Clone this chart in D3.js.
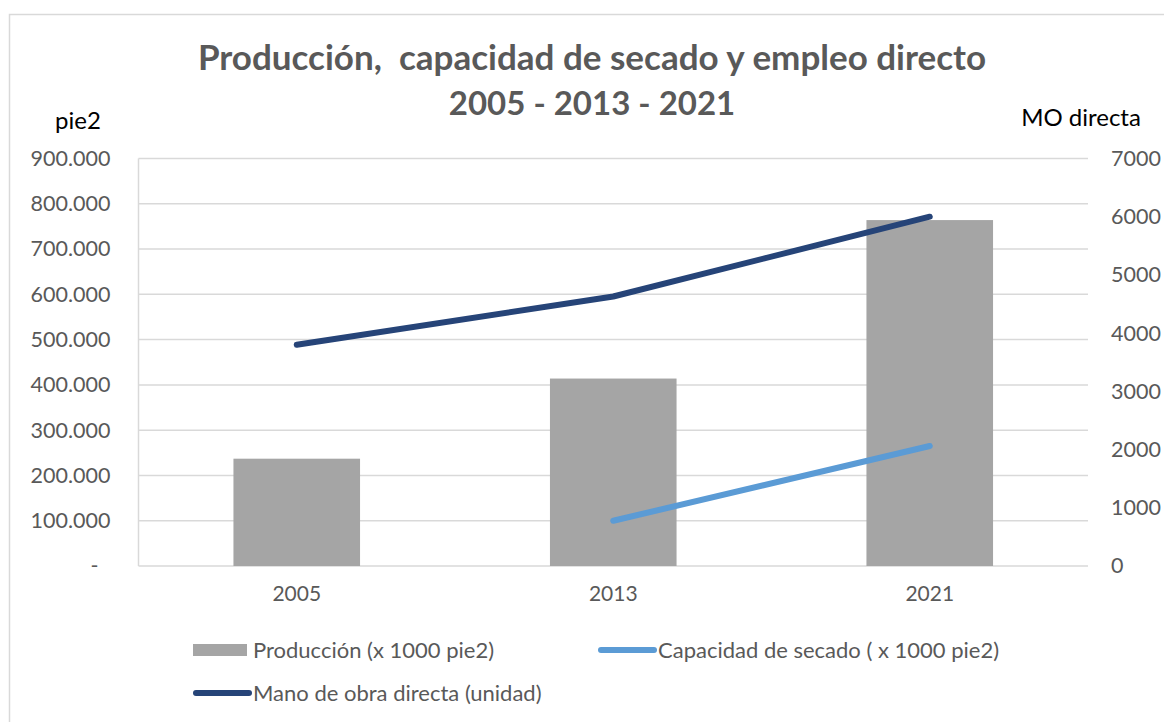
<!DOCTYPE html>
<html>
<head>
<meta charset="utf-8">
<script src="https://cdn.jsdelivr.net/npm/d3@7"></script>
<style>
    body { margin: 0; background: #fff; }
    svg text { font-family: Lato, "Open Sans", sans-serif; }
</style>
</head>
<body>
<svg id="chart" width="1164" height="722"></svg>
<script>
const years = ["2005", "2013", "2021"];
const produccion = [237000, 414000, 764000];
const capacidad = [null, 100000, 265000];
const manoObra = [3800, 4630, 6000];
const leftTicks = [0, 100000, 200000, 300000, 400000, 500000, 600000, 700000, 800000, 900000];
const rightTicks = [0, 1000, 2000, 3000, 4000, 5000, 6000, 7000];

const margin = {left: 138.5, top: 158.5, right: 76, bottom: 156};
const totalWidth = 1164;
const totalHeight = 722;
const width = totalWidth - margin.left - margin.right;
const height = totalHeight - margin.top - margin.bottom;

const textColor = "#595959";
const gridColor = "#d9d9d9";

const svg = d3.select("#chart");

// chart border
svg.append("rect")
    .attr("x", 9.5).attr("y", 14.5)
    .attr("width", totalWidth).attr("height", totalHeight)
    .attr("fill", "none").attr("stroke", gridColor).attr("stroke-width", 1.5);

// Title
const title = svg.append("text")
    .attr("text-anchor", "middle")
    .style("font-weight", "bold")
    .style("font-size", "35px")
    .attr("fill", textColor);
title.append("tspan").attr("x", 592).attr("y", 70).text("Producción,  capacidad de secado y empleo directo").attr("xml:space", "preserve");
title.append("tspan").attr("x", 592).attr("y", 115).style("font-size", "33px").text("2005 - 2013 - 2021");

const g = svg.append("g").attr("transform", `translate(${margin.left}, ${margin.top})`);

const x = d3.scaleBand().domain(years).range([0, width]).padding(0);
const y = d3.scaleLinear().domain([0, 900000]).range([height, 0]);
const y2 = d3.scaleLinear().domain([0, 7000]).range([height, 0]);

// gridlines
g.append("g")
    .selectAll("line")
    .data(leftTicks)
    .enter()
    .append("line")
    .attr("x1", 0).attr("x2", width)
    .attr("y1", d => y(d)).attr("y2", d => y(d))
    .attr("stroke", gridColor).attr("stroke-width", 1.5);

g.append("line")
    .attr("x1", 0).attr("x2", 0)
    .attr("y1", 0).attr("y2", height)
    .attr("stroke", gridColor).attr("stroke-width", 1.5);

// Left axis
const leftAxis = g.append("g")
    .call(d3.axisLeft(y).tickValues(leftTicks).tickSize(0).tickPadding(28)
        .tickFormat(d => d === 0 ? "-" : d3.format(",")(d).replace(/,/g, ".")));
leftAxis.select(".domain").remove();
leftAxis.selectAll("text")
    .style("font-size", "21.5px")
    .attr("fill", textColor)
    .attr("dx", d => d === 0 ? "-12px" : null);

// Right axis
const rightAxis = g.append("g")
    .attr("transform", `translate(${width}, 0)`)
    .call(d3.axisRight(y2).tickValues(rightTicks).tickSize(0).tickPadding(23)
        .tickFormat(d3.format("d")));
rightAxis.select(".domain").remove();
rightAxis.selectAll("text")
    .style("font-size", "21.5px")
    .attr("fill", textColor);

// Bottom axis
const bottomAxis = g.append("g")
    .attr("transform", `translate(0, ${height})`)
    .call(d3.axisBottom(x).tickSize(0).tickPadding(20));
bottomAxis.select(".domain").remove();
bottomAxis.selectAll("text")
    .style("font-size", "21px")
    .attr("fill", textColor);

// Bars
const barWidth = x.bandwidth() * 0.4;
g.selectAll(".bar")
    .data(produccion)
    .enter()
    .append("rect")
    .attr("class", "bar")
    .attr("x", (d, i) => x(years[i]) + (x.bandwidth() - barWidth) / 2)
    .attr("width", barWidth)
    .attr("y", d => y(d))
    .attr("height", d => height - y(d))
    .attr("fill", "#a5a5a5");

// Lines
const cx = i => x(years[i]) + x.bandwidth() / 2;

const capLine = d3.line()
    .defined(d => d !== null)
    .x((d, i) => cx(i))
    .y(d => y(d));
g.append("path")
    .datum(capacidad)
    .attr("d", capLine)
    .attr("fill", "none")
    .attr("stroke", "#5b9bd5")
    .attr("stroke-width", 6)
    .attr("stroke-linecap", "round")
    .attr("stroke-linejoin", "round");

const moLine = d3.line()
    .x((d, i) => cx(i))
    .y(d => y2(d));
g.append("path")
    .datum(manoObra)
    .attr("d", moLine)
    .attr("fill", "none")
    .attr("stroke", "#264478")
    .attr("stroke-width", 6)
    .attr("stroke-linecap", "round")
    .attr("stroke-linejoin", "round");

// Axis titles
svg.append("text")
    .attr("x", 78).attr("y", 129)
    .attr("text-anchor", "middle")
    .style("font-size", "24px")
    .attr("fill", "#000")
    .text("pie2");
svg.append("text")
    .attr("x", 1081).attr("y", 126)
    .attr("text-anchor", "middle")
    .style("font-size", "24px")
    .attr("fill", "#000")
    .text("MO directa");

// Legend
const legendItems = [
    {label: "Producción (x 1000 pie2)", type: "rect", color: "#a5a5a5", x: 193, y: 650},
    {label: "Capacidad de secado ( x 1000 pie2)", type: "line", color: "#5b9bd5", x: 598, y: 650},
    {label: "Mano de obra directa (unidad)", type: "line", color: "#264478", x: 193, y: 693}
];
const legend = svg.append("g");
legendItems.forEach(function (item) {
    if (item.type === "rect") {
        legend.append("rect")
            .attr("x", item.x).attr("y", item.y - 6)
            .attr("width", 54).attr("height", 12)
            .attr("fill", item.color);
    } else {
        legend.append("line")
            .attr("x1", item.x + 3).attr("x2", item.x + 56)
            .attr("y1", item.y).attr("y2", item.y)
            .attr("stroke", item.color)
            .attr("stroke-width", 6)
            .attr("stroke-linecap", "round");
    }
    legend.append("text")
        .attr("x", item.x + 60).attr("y", item.y + 8)
        .style("font-size", "22px")
        .attr("fill", textColor)
        .text(item.label);
});
</script>
</body>
</html>
